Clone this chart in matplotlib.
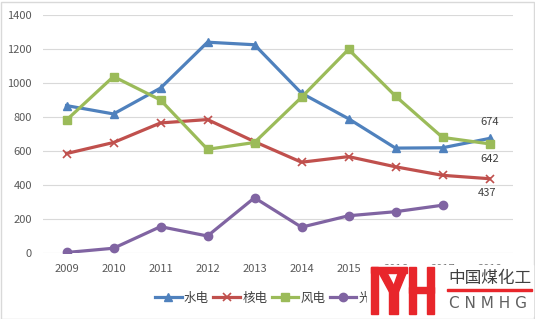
import matplotlib.pyplot as plt
from matplotlib.patches import Rectangle, Polygon

plt.rcParams['font.family'] = ['Noto Sans CJK SC', 'DejaVu Sans']

years = ['2009', '2010', '2011', '2012', '2013', '2014', '2015', '2016', '2017', '2018']
hydro = [867, 818, 970, 1240, 1225, 940, 790, 617, 619, 674]
nuclear = [585, 650, 765, 785, 655, 534, 567, 507, 457, 437]
wind = [782, 1038, 900, 610, 650, 916, 1198, 923, 680, 642]
solar = [3, 28, 155, 100, 325, 152, 219, 243, 281]
names = ['水电', '核电', '风电', '光电']

W, H = 535, 319
fig = plt.figure(figsize=(W / 100, H / 100), dpi=100)
ax = fig.add_axes([43 / W, 1 - 253 / H, 470 / W, 238 / H])

x = list(range(len(years)))
ax.plot(x, hydro, color='#4F81BD', lw=2.3, marker='^', ms=6, label=names[0])
ax.plot(x, nuclear, color='#C0504D', lw=2.3, marker='x', ms=6, mew=1.2, label=names[1])
ax.plot(x, wind, color='#9BBB59', lw=2.3, marker='s', ms=6, label=names[2])
ax.plot(x[:len(solar)], solar, color='#8064A2', lw=2.3, marker='o', ms=6, label=names[3])

ax.set_xlim(-0.5, 9.5)
ax.set_ylim(0, 1400)
ax.set_yticks(range(0, 1401, 200))
ax.set_xticks(x)
ax.set_xticklabels(years)
ax.grid(axis='y', color='#D9D9D9', lw=0.8)
ax.set_axisbelow(True)
for s in ax.spines.values():
    s.set_visible(False)
ax.tick_params(length=0, labelsize=8, colors='#595959', pad=8)

ax.annotate(str(hydro[-1]), (9, hydro[-1]), xytext=(0, 8), textcoords='offset points',
            ha='center', va='bottom', fontsize=8, color='#404040')
ax.annotate(str(wind[-1]), (9, wind[-1]), xytext=(0, -7), textcoords='offset points',
            ha='center', va='top', fontsize=8, color='#404040')
ax.annotate(str(nuclear[-1]), (9, nuclear[-1]), xytext=(-2, -7), textcoords='offset points',
            ha='center', va='top', fontsize=8, color='#404040')

fig.legend(loc='center left', bbox_to_anchor=(144 / W, 1 - 298 / H), ncol=4, frameon=False,
           fontsize=9, handlelength=2.1, handletextpad=0.2, columnspacing=0.35,
           labelcolor='#404040')

# figure border
fig.patches.append(Rectangle((0.5 / W, 0.5 / H), (W - 2) / W, (H - 2) / H,
                             transform=fig.transFigure, fill=False, ec='#D9D9D9', lw=1))

# watermark logo (white backing, covers part of the chart as in the source image)
red = '#E8262B'
def box(x0, y0, x1, y1, color=red):
    fig.patches.append(Rectangle((x0 / W, 1 - y1 / H), (x1 - x0) / W, (y1 - y0) / H,
                                 transform=fig.transFigure, color=color, zorder=10))
def poly(pts):
    fig.patches.append(Polygon([(px / W, 1 - py / H) for px, py in pts], closed=True,
                               transform=fig.transFigure, color=red, zorder=11))
box(367, 265, 533, 316, color='white')
box(371, 267, 378, 314)
box(371, 267, 407, 273)
poly([(378, 271), (386, 271), (395, 288), (390, 293)])
poly([(399, 271), (407, 271), (398, 293), (393, 288)])
box(389, 288, 398, 314)
box(409, 267, 416, 314)
box(427, 267, 434, 314)
box(409, 287, 434, 293)
fig.text(448 / W, 1 - 279 / H, '中国煤化工', fontsize=12, color='#404040', va='center',
         ha='left', zorder=12)
box(447, 289, 532, 291)
fig.text(449 / W, 1 - 304 / H, 'C N M H G', fontsize=11, color='#606060', va='center',
         ha='left', family='DejaVu Sans', zorder=12)

fig.savefig('out.png', dpi=100)
